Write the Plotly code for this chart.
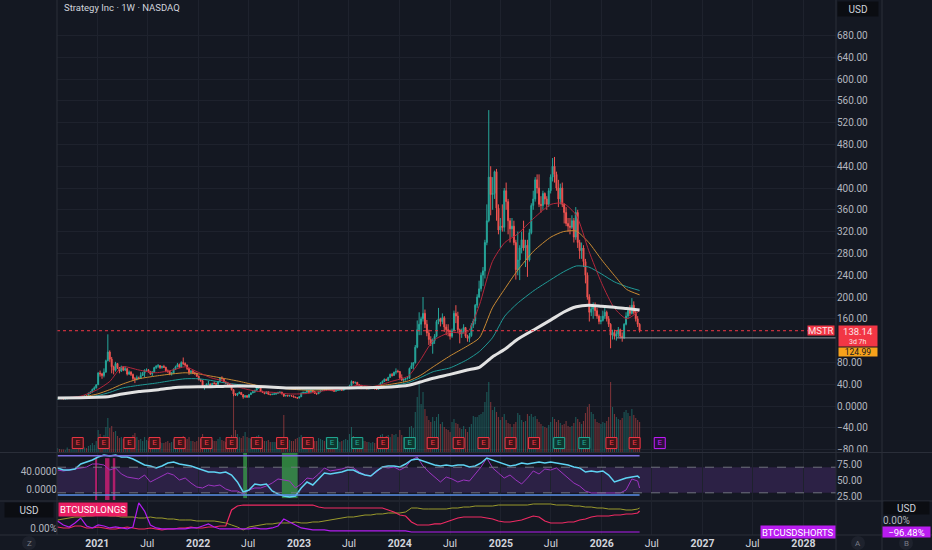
import plotly.graph_objects as go
import pandas as pd

# ------------------------------------------------------------------ data
week_start = "2020-08-10"          # first weekly bar (Mondays)
first_open = 12.4

close = [
    # 2020
    14.5, 14.1, 13.6, 13.0, 13.2, 14.8, 14.3, 14.9, 15.2, 15.5, 16.0, 15.6, 16.9, 17.2, 19.3, 19.0, 23.5, 25.5, 30.5, 33.5, 38.9,
    # 2021
    60.5, 59.0, 55.8, 62.0, 83.0, 99.0, 86.0, 72.0, 65.5, 78.0, 70.5, 64.0, 72.0, 66.0, 68.5, 58.5, 62.0, 58.0, 50.5, 48.5,
    52.0, 50.5, 56.0, 60.0, 66.0, 66.5, 63.5, 59.0, 62.5, 70.5, 73.0, 74.0, 70.5, 72.5, 71.0, 64.5, 63.5, 58.5, 60.5, 67.5,
    72.0, 76.0, 71.0, 80.0, 78.0, 75.0, 69.0, 61.5, 64.0, 61.0, 60.0, 54.5,
    # 2022
    48.5, 46.5, 35.0, 36.0, 40.0, 40.5, 37.0, 41.5, 41.0, 40.0, 45.0, 51.5, 50.0, 44.0, 42.0, 40.0, 36.0, 30.0, 22.0, 20.0,
    23.0, 25.0, 21.0, 16.5, 19.0, 16.0, 21.0, 24.0, 26.0, 29.0, 33.0, 34.0, 26.5, 25.0, 23.0, 26.0, 21.5, 21.0, 21.5, 22.0,
    23.0, 25.0, 25.5, 22.0, 18.5, 19.5, 18.5, 19.0, 18.5, 16.5, 15.5, 14.5,
    # 2023
    17.0, 24.0, 25.0, 25.0, 28.0, 25.0, 29.0, 26.5, 23.0, 22.5, 26.0, 28.5, 29.5, 29.0, 34.0, 30.5, 29.5, 29.0, 27.0, 28.5,
    29.0, 31.0, 29.0, 31.5, 33.5, 34.0, 37.0, 45.0, 42.5, 43.5, 39.0, 38.0, 32.0, 33.5, 33.0, 31.5, 32.0, 32.5, 33.0, 31.5,
    30.5, 38.0, 42.0, 45.0, 49.0, 47.0, 52.5, 58.0, 56.0, 62.0, 63.5, 63.2,
    # 2024
    52.0, 47.5, 49.0, 50.5, 51.0, 69.0, 74.0, 79.5, 108.0, 140.0, 150.0, 160.0, 170.0, 150.0, 134.0, 122.0, 114.0, 120.0, 128.0, 155.0,
    160.0, 155.0, 162.0, 145.0, 140.0, 137.5, 128.0, 138.0, 170.0, 165.0, 140.0, 132.0, 137.0, 144.0, 128.0, 124.0, 129.0, 148.0, 156.0, 185.0,
    200.0, 215.0, 240.0, 248.0, 300.0, 340.0, 420.0, 388.0, 390.0, 430.0, 363.0, 323.0, 330.0,
    # 2025
    328.0, 395.0, 375.0, 340.0, 325.0, 330.0, 300.0, 250.0, 268.0, 290.0, 305.0, 290.0, 295.0, 268.0, 318.0, 368.0, 380.0, 415.0, 400.0, 370.0,
    368.0, 390.0, 380.0, 370.0, 395.0, 420.0, 440.0, 425.0, 400.0, 380.0, 400.0, 370.0, 355.0, 335.0, 330.0, 328.0, 340.0, 310.0, 355.0, 300.0,
    285.0, 290.0, 265.0, 240.0, 200.0, 172.0, 178.0, 183.0, 175.0, 165.0, 155.0, 157.0,
    # 2026
    165.0, 172.0, 160.0, 150.0, 130.0, 135.0, 128.0, 132.0, 140.0, 128.0, 125.0, 150.0, 165.0, 175.0, 170.0, 185.0, 172.0, 160.0, 150.0, 138.14,
]

high = [
    # 2020
    14.8, 14.9, 14.3, 13.9, 13.6, 15.4, 15.0, 15.2, 15.6, 16.2, 16.6, 17.0, 17.4, 17.9, 19.8, 20.5, 24.5, 27.0, 32.0, 36.0, 40.0,
    # 2021
    62, 65, 61, 69, 85, 131.5, 102, 90, 74, 81, 79, 71, 74, 73, 73, 69.5, 65, 64, 59.5, 53,
    56, 54, 62, 62.5, 67, 69, 67.5, 64, 64, 72, 75, 77, 75, 74, 75.5, 72, 67, 65, 62, 69,
    74, 79, 78, 82, 89, 80, 76, 70, 66, 66, 63, 61,
    # 2022
    56, 50, 47.5, 38.5, 41.5, 46, 41, 42.5, 45, 43, 46, 53, 54.5, 50.5, 45, 44, 41, 38, 31, 23.5,
    24, 26.5, 25.5, 21.5, 19.5, 19.8, 21.5, 25, 29, 29.5, 34.5, 36.5, 35, 28, 25.5, 27, 27, 22.5, 23, 24.5,
    23.5, 26, 26.5, 26, 23, 20, 20.5, 20, 19.5, 19, 17, 15.8,
    # 2023
    17.5, 24.5, 26.5, 26, 30, 28.5, 30.5, 29.5, 27.5, 24, 28, 30, 30.5, 31, 35, 34.5, 31.5, 31.5, 29.5, 29.5,
    30, 31.5, 31.5, 32, 35, 35.5, 39, 47, 45.5, 44.5, 44, 40, 38.5, 34.5, 36.5, 33.5, 33, 33.5, 33.5, 34,
    32, 39, 43.5, 47, 50.5, 50, 53.5, 59.5, 60.5, 63, 69, 66.5,
    # 2024
    64, 58, 50, 51.5, 55, 70.5, 80, 80.5, 112, 157, 172, 164, 200, 177, 158, 140, 128, 124, 132, 158,
    180, 162, 170, 165, 150, 150, 140, 142, 175, 185, 173, 142, 142, 150, 145, 131, 134, 152, 160, 187,
    205, 230, 245, 255, 305, 370, 543, 440, 420, 432, 435, 370, 345,
    # 2025
    370, 400, 410, 380, 345, 345, 340, 305, 320, 295, 320, 340, 305, 305, 325, 372, 395, 420, 425, 425,
    385, 395, 392, 385, 400, 425, 455, 457, 430, 415, 408, 410, 372, 365, 345, 345, 350, 345, 365, 360,
    305, 300, 295, 270, 245, 205, 185, 190, 190, 180, 168, 165,
    # 2026
    175, 180, 175, 165, 152, 140, 140, 138, 145, 142, 135, 152, 172, 182, 185, 198, 192, 175, 165, 152,
]

low = [
    # 2020
    12.2, 13.8, 13.4, 12.6, 12.7, 13.1, 13.9, 14.0, 14.7, 15.0, 15.2, 15.2, 15.5, 16.4, 17.0, 18.6, 18.8, 22.6, 25.0, 29.0, 32.0,
    # 2021
    38.5, 54, 50, 52.5, 61.5, 82, 81, 60, 58, 63, 68, 60, 62.5, 64, 64, 56, 57, 55, 47, 42,
    47, 49, 50, 55, 53, 63, 61, 57, 55, 61, 68, 70, 68, 68.5, 70, 62, 61, 56.5, 56, 60,
    66, 71, 69.5, 70, 75, 73, 66, 57, 58, 58.5, 57, 54,
    # 2022
    47, 44.5, 33, 30, 34, 39, 35.5, 33.5, 40, 38, 38.5, 44, 48.5, 43, 40.5, 38.5, 35, 28.5, 18, 18.5,
    18, 22, 20, 13.3, 15, 15.5, 15.5, 20, 23.5, 24, 28, 31.5, 26, 24.5, 21.5, 22.5, 21, 19.5, 20, 21,
    20.5, 22.5, 24, 21.5, 16.5, 17.5, 17.5, 17.5, 17.5, 16, 14.5, 13.3,
    # 2023
    14.2, 16.8, 22.5, 23, 24.5, 24, 24.5, 25.5, 22.5, 20.5, 22, 25, 27.5, 28, 28.8, 29.5, 28, 27, 26.5, 26.5,
    27.5, 28.5, 28, 28.5, 31, 32, 33.5, 36.5, 41, 41, 38, 37, 31, 31.5, 32.5, 31, 30.5, 31, 31, 31,
    29.5, 30.2, 37.5, 41, 44.5, 46, 46.5, 52, 54, 55.5, 58, 61,
    # 2024
    49, 46, 43.5, 46.5, 48.5, 50.5, 68, 67, 78, 106, 130, 130, 155, 143, 128, 112, 110, 96, 114, 126,
    150, 146, 150, 136, 130, 128, 122, 125, 137, 152, 134, 115, 125, 133, 125, 118, 117, 127, 143, 150,
    180, 198, 210, 220, 234, 295, 337, 350, 360, 380, 340, 315, 290,
    # 2025
    320, 320, 360, 315, 300, 310, 295, 232, 240, 231, 280, 285, 255, 237, 265, 315, 360, 375, 390, 365,
    355, 360, 370, 360, 365, 390, 412, 410, 395, 365, 370, 365, 335, 330, 320, 315, 325, 300, 305, 290,
    270, 270, 255, 225, 195, 155, 165, 160, 165, 160, 150, 150,
    # 2026
    155, 160, 155, 145, 106, 122, 122, 120, 126, 124, 118, 123, 148, 160, 165, 168, 168, 155, 145, 135,
]

volume = [  # millions of shares (split adjusted)
    # 2020
    8, 6, 5, 5, 4, 9, 6, 5, 5, 5, 5, 6, 8, 6, 9, 8, 12, 14, 18, 14, 22,
    # 2021
    44, 36, 30, 34, 50, 68, 48, 52, 40, 42, 32, 28, 30, 26, 24, 30, 26, 28, 34, 38,
    30, 24, 26, 22, 30, 24, 22, 20, 18, 22, 26, 22, 20, 18, 18, 20, 22, 18, 20, 26,
    24, 22, 22, 30, 32, 24, 26, 30, 22, 22, 20, 22,
    # 2022
    30, 26, 36, 30, 28, 26, 22, 24, 22, 22, 26, 30, 24, 22, 20, 20, 24, 34, 124, 44,
    36, 30, 28, 32, 40, 30, 28, 26, 28, 30, 32, 34, 30, 24, 22, 22, 24, 20, 20, 20,
    20, 22, 20, 30, 74, 30, 26, 24, 22, 22, 26, 28,
    # 2023
    30, 34, 28, 26, 30, 26, 28, 24, 22, 22, 28, 26, 24, 22, 30, 24, 22, 22, 20, 20,
    22, 20, 22, 24, 26, 24, 36, 50, 32, 28, 26, 24, 28, 22, 22, 20, 20, 18, 20, 18,
    28, 30, 34, 36, 30, 32, 34, 30, 36, 34, 36, 30,
    # 2024
    44, 34, 30, 28, 30, 50, 52, 48, 80, 110, 140, 96, 120, 86, 72, 64, 60, 70, 62, 70,
    76, 56, 60, 50, 46, 44, 40, 60, 66, 58, 56, 48, 46, 52, 46, 40, 50, 56, 72, 70,
    70, 74, 76, 80, 100, 120, 140, 100, 84, 90, 80, 70, 64,
    # 2025
    70, 76, 64, 58, 56, 50, 56, 60, 78, 74, 64, 60, 62, 76, 72, 76, 70, 72, 66, 60,
    56, 52, 50, 48, 54, 60, 70, 66, 60, 64, 58, 54, 56, 62, 52, 50, 52, 58, 70, 66,
    60, 56, 62, 78, 90, 96, 80, 76, 66, 60, 58, 56,
    # 2026
    60, 58, 62, 70, 140, 90, 76, 70, 66, 64, 68, 80, 84, 78, 72, 86, 74, 68, 64, 60,
]

# moving averages
ma_dates = ["2020-08-10", "2020-11-01", "2021-01-01", "2021-02-15", "2021-04-01", "2021-06-01", "2021-08-01", "2021-10-01",
            "2021-11-15", "2022-01-01", "2022-02-15", "2022-04-01", "2022-06-01", "2022-08-01", "2022-10-01", "2022-12-01",
            "2023-02-01", "2023-04-01", "2023-06-01", "2023-08-01", "2023-10-01", "2023-12-01", "2024-02-01", "2024-03-15",
            "2024-05-01", "2024-07-01", "2024-09-01", "2024-10-15", "2024-12-01", "2025-01-15", "2025-03-01", "2025-05-01",
            "2025-07-01", "2025-08-15", "2025-10-01", "2025-11-15", "2026-01-01", "2026-02-15", "2026-04-01", "2026-05-18"]
ma_red = [14, 18, 30, 45, 72, 66, 61, 66, 72, 62, 52, 46, 34, 27, 25, 22, 23, 28, 31, 38,
          36, 45, 55, 84, 120, 135, 135, 185, 265, 300, 315, 345, 370, 372, 350, 285, 225, 180, 160, 175]
ma_orange = [14, 16, 22, 30, 40, 50, 55, 59, 61, 59, 55, 51, 45, 38, 34, 31, 29, 30, 32, 34,
             36, 40, 46, 56, 72, 92, 110, 125, 180, 215, 248, 285, 310, 320, 321, 300, 268, 240, 214, 204]
ma_teal = [14, 15.5, 19, 25, 33, 38, 42, 47, 50, 50, 47, 43, 39, 36, 34, 32, 31, 31, 32, 33.5,
           34.5, 37, 43, 52, 63, 70, 85, 100, 125, 165, 188, 212, 232, 246, 257, 255, 242, 228, 219, 212]
ma_white = [14.5, 15, 16, 17.5, 22, 26.5, 29.5, 33.5, 35, 35.5, 35.5, 36, 36.5, 36, 34.5, 33, 33, 33, 33, 33.5,
            34, 35, 38, 44, 51, 58, 66, 71, 90, 104, 122, 140, 158, 172, 182, 185, 183, 181, 179, 176]

earn_dates = ["2020-10-22", "2021-01-24", "2021-04-27", "2021-07-27", "2021-10-26", "2022-01-31", "2022-05-02", "2022-08-01",
              "2022-11-01", "2023-02-02", "2023-05-01", "2023-07-31", "2023-11-01", "2024-02-06", "2024-04-29", "2024-08-01",
              "2024-10-30", "2025-02-05", "2025-05-01", "2025-07-31", "2025-10-30", "2026-02-05", "2026-04-30", "2026-07-30"]
earn_kind = ["r", "r", "r", "r", "r", "r", "r", "r", "r", "r", "g", "g",
             "r", "g", "r", "r", "r", "r", "r", "g", "g", "r", "r", "f"]

# oscillator pane (sampled every 3 weeks + last bar), right scale
osc_start = "2020-08-10"
osc_cyan = [68.8, 65.6, 65.6, 67.2, 75, 78.1, 81.3, 85.9, 89.1, 87.5,
            89.1, 85.9, 85.9, 82.8, 78.1, 73.4, 71.9, 68.8, 71.9, 76.6,
            78.1, 75, 73.4, 71.9, 68.8, 65.6, 62.5, 62.5, 60.9, 62.5,
            57.8, 46.9, 31.3, 34.4, 43.8, 42.2, 43.8, 32.8, 28.1, 25,
            23.4, 25, 37.5, 46.9, 42.2, 51.6, 60.9, 59.4, 60.9, 62.5,
            65.6, 65.6, 60.9, 57.8, 56.3, 64.1, 70.3, 71.9, 71.9, 70.3,
            75, 81.3, 82.8, 79.7, 76.6, 73.4, 71.9, 73.4, 71.9, 73.4,
            73.4, 70.3, 71.9, 76.6, 84.4, 81.3, 78.1, 75, 71.9, 73.4,
            76.6, 75, 76.6, 78.1, 76.6, 78.1, 76.6, 75, 73.4, 70.3,
            68.8, 62.5, 64.1, 62.5, 64.1, 57.8, 46.9, 50, 53.1, 54.7,
            56.3, 53.1]
osc_purple = [65.6, 64.1, 65.6, 67.2, 68.8, 70.3, 75, 75, 73.4, 65.6,
              68.8, 59.4, 54.7, 53.1, 51.6, 57.8, 46.9, 51.6, 56.3, 60.9,
              57.8, 50, 53.1, 45.3, 39.1, 37.5, 42.2, 40.6, 42.2, 35.9,
              32.8, 32.8, 28.1, 34.4, 37.5, 37.5, 40.6, 45.3, 51.6, 50,
              48.4, 37.5, 43.8, 53.1, 51.6, 59.4, 68.8, 64.1, 65.6, 67.2,
              70.3, 68.8, 62.5, 57.8, 56.3, 62.5, 70.3, 68.8, 70.3, 65.6,
              70.3, 81.3, 85.9, 71.9, 62.5, 54.7, 46.9, 54.7, 51.6, 46.9,
              50, 48.4, 59.4, 70.3, 84.4, 68.8, 60.9, 53.1, 57.8, 50,
              43.8, 53.1, 64.1, 59.4, 67.2, 65.6, 68.8, 60.9, 53.1, 45.3,
              40.6, 32.8, 29.7, 29.7, 29.7, 29.7, 29.7, 29.7, 34.4, 51.6,
              48.4, 37.5]
rsi_levels = [30, 70]
band_levels_left = [-13, 76.4]      # solid band lines, left scale
green_spans = [("2022-06-13", "2022-06-27"), ("2022-10-31", "2022-12-27")]
pink_spans = [("2020-12-24", "2021-01-01"), ("2021-01-29", "2021-02-14"), ("2021-02-26", "2021-03-07")]

# BTCUSD longs (left % scale) / shorts (right % scale), same 3-week sampling
longs_pct = [48, 24, 24, 72, 72, 24, 24, 48, 24, 0,
             0, 24, 48, 24, 0, 0, 24, 0, -24, 0,
             0, 24, 24, 48, 24, 24, 48, 48, 72, 72,
             458, 554, 578, 578, 578, 578, 578, 578, 578, 578,
             578, 578, 578, 578, 578, 530, 506, 506, 506, 506,
             506, 506, 506, 506, 506, 506, 506, 458, 410, 337,
             313, 169, 96, 96, 96, 121, 121, 169, 217, 265,
             289, 289, 289, 289, 265, 241, 193, 169, 169, 193,
             217, 265, 313, 289, 193, 145, 145, 145, 169, 169,
             217, 241, 289, 313, 313, 313, 337, 337, 362, 362,
             386, 434]
olive_pct = [217, 241, 265, 289, 289, 313, 313, 337, 337, 313,
             313, 289, 289, 289, 265, 265, 289, 265, 265, 241,
             241, 217, 217, 217, 193, 193, 193, 193, 169, 145,
             96, 48, -24, 48, 72, 96, 121, 121, 145, 145,
             145, 169, 145, 145, 169, 169, 193, 217, 241, 265,
             289, 289, 313, 337, 337, 362, 362, 386, 386, 386,
             410, 506, 506, 482, 482, 482, 482, 482, 506, 506,
             530, 530, 554, 554, 554, 554, 578, 578, 578, 578,
             578, 578, 603, 603, 603, 603, 578, 578, 578, 554,
             554, 530, 530, 506, 506, 482, 482, 482, 458, 458,
             482, 506]
shorts_pct = [-8, -40, -56, -24, 16, -48, -64, -40, -48, -64,
              -56, -64, -72, -56, 137, 72, -40, -64, -72, -72,
              -72, -72, -72, -64, -64, -48, -32, -56, -72, -72,
              -72, -72, -72, -72, -64, -72, -72, -64, -48, 8,
              -16, -40, -64, -72, -80, -80, -80, -88, -88, -88,
              -88, -88, -88, -88, -88, -88, -88, -88, -88, -88,
              -88, -96.48, -96.48, -96.48, -96.48, -96.48, -96.48, -96.48, -96.48, -96.48,
              -96.48, -96.48, -96.48, -96.48, -96.48, -96.48, -96.48, -96.48, -96.48, -96.48,
              -96.48, -96.48, -96.48, -96.48, -96.48, -96.48, -96.48, -96.48, -96.48, -96.48,
              -96.48, -96.48, -96.48, -96.48, -96.48, -96.48, -96.48, -96.48, -96.48, -96.48,
              -96.48, -96.48]

alert_level = 124.99
alert_start = "2026-02-23"
countdown = "3d 7h"

price_ticks = [-80, -40, 0, 40, 80, 160, 200, 240, 280, 320, 360, 400, 440, 480, 520, 560, 600, 640, 680]
price_ticktext = ["\u221280.00", "\u221240.00", "0.0000", "40.00", "80.00", "160.00", "200.00", "240.00",
                  "280.00", "320.00", "360.00", "400.00", "440.00", "480.00", "520.00", "560.00", "600.00", "640.00",
                  "680.00"]
rsi_ticks = [25, 50, 75]
rsi_ticktext = ["25.00", "50.00", "75.00"]
osc_left_ticks = [0, 40]
osc_left_ticktext = ["0.0000", "40.0000"]
time_ticks = ["2021-01-01", "2021-07-01", "2022-01-01", "2022-07-01", "2023-01-01", "2023-07-01", "2024-01-01",
              "2024-07-01", "2025-01-01", "2025-07-01", "2026-01-01", "2026-07-01", "2027-01-01", "2027-07-01", "2028-01-01"]
time_ticktext = ["<b>2021</b>", "Jul", "<b>2022</b>", "Jul", "<b>2023</b>", "Jul", "<b>2024</b>", "Jul",
                 "<b>2025</b>", "Jul", "<b>2026</b>", "Jul", "<b>2027</b>", "Jul", "<b>2028</b>"]
x_range = ["2020-08-08", "2028-04-28"]

assert len(close) == len(high) == len(low) == len(volume)
assert len(osc_cyan) == len(osc_purple) == len(longs_pct) == len(olive_pct) == len(shorts_pct)

# ------------------------------------------------------------------ geometry / style
W, H = 932, 550
ML, MR, MT, MB = 57, 0, 0, 15
PW, PH = W - ML - MR, H - MT - MB


def px_x(px):
    return (px - ML) / PW


def px_y(py):
    return (H - MB - py) / PH


XR = px_x(836)
XB = px_x(882)
BG = "#141822"
GRID = "#1e222d"
SEP = "#2a2e39"
TXT = "#b2b5be"
UP, DN = "#26a69a", "#ef5350"
FONT = "Roboto, 'Noto Sans', sans-serif"
EARN_Y = -68

weeks = pd.date_range(week_start, periods=len(close), freq="7D")
opens = [first_open] + close[:-1]
is_up = [c >= o for o, c in zip(opens, close)]
osc_dates = list(pd.date_range(osc_start, periods=len(osc_cyan) - 1, freq="21D")) + [weeks[-1]]

fig = go.Figure()

# volume (base axis of main pane, hidden)
fig.add_trace(go.Bar(x=weeks, y=volume, xaxis="x", yaxis="y",
                     marker=dict(color=["rgba(38,166,154,0.45)" if u else "rgba(239,83,80,0.45)" for u in is_up],
                                 line=dict(width=0)),
                     width=4 * 86400000))

# candles
fig.add_trace(go.Candlestick(x=weeks, open=opens, high=high, low=low, close=close, xaxis="x", yaxis="y2",
                             increasing=dict(line=dict(color=UP, width=1), fillcolor=UP),
                             decreasing=dict(line=dict(color=DN, width=1), fillcolor=DN),
                             whiskerwidth=0))

# moving averages
for vals, col, w in [(ma_teal, "#1f9a96", 1), (ma_orange, "#c98a33", 1), (ma_red, "#b3263a", 1), (ma_white, "#e2e2e2", 3)]:
    fig.add_trace(go.Scatter(x=ma_dates, y=vals, mode="lines", xaxis="x", yaxis="y2",
                             line=dict(color=col, width=w, shape="spline", smoothing=0.6)))

# earnings markers
ecol = {"r": ("#3e1519", "#f23645"), "g": ("#0e3630", "#22ab94"), "f": ("#2b0f3d", "#c51cff")}
fig.add_trace(go.Scatter(x=earn_dates, y=[EARN_Y] * len(earn_dates), mode="markers+text", xaxis="x", yaxis="y2",
                         text=["E"] * len(earn_dates), textposition="middle center",
                         textfont=dict(size=8, color=[ecol[k][1] for k in earn_kind], family=FONT),
                         marker=dict(symbol="square", size=11, color=[ecol[k][0] for k in earn_kind],
                                     line=dict(color=[ecol[k][1] for k in earn_kind], width=1)),
                         cliponaxis=False))

# oscillator pane
fig.add_trace(go.Scatter(x=[weeks[0], weeks[-1]], y=[band_levels_left[1]] * 2, mode="lines", xaxis="x2", yaxis="y4",
                         line=dict(color="#7e6ee0", width=1.5)))
fig.add_trace(go.Scatter(x=[weeks[0], weeks[-1]], y=[band_levels_left[0]] * 2, mode="lines", xaxis="x2", yaxis="y4",
                         line=dict(color="#5b8fe8", width=1.5)))
fig.add_trace(go.Scatter(x=osc_dates, y=osc_purple, mode="lines", xaxis="x2", yaxis="y3",
                         line=dict(color="#9c34c0", width=1)))
fig.add_trace(go.Scatter(x=osc_dates, y=osc_cyan, mode="lines", xaxis="x2", yaxis="y3",
                         line=dict(color="#5fd3f3", width=1.5)))

# btc longs / shorts pane
fig.add_trace(go.Scatter(x=osc_dates, y=olive_pct, mode="lines", xaxis="x3", yaxis="y5",
                         line=dict(color="#9a9a2c", width=1)))
fig.add_trace(go.Scatter(x=osc_dates, y=longs_pct, mode="lines", xaxis="x3", yaxis="y5",
                         line=dict(color="#ef2a63", width=1.2)))
fig.add_trace(go.Scatter(x=osc_dates, y=shorts_pct, mode="lines", xaxis="x3", yaxis="y6",
                         line=dict(color="#b21cf0", width=1.2)))

# ------------------------------------------------------------------ shapes
shapes = []
shapes.append(dict(type="line", xref="x domain", x0=0, x1=1, yref="y2", y0=close[-1], y1=close[-1],
                   line=dict(color="#f23645", width=1, dash="dot")))
shapes.append(dict(type="line", xref="x", x0=alert_start, x1=x_range[1], yref="y2", y0=alert_level, y1=alert_level,
                   line=dict(color="#9598a1", width=1)))
shapes.append(dict(type="rect", xref="x2 domain", x0=0, x1=1, yref="y3", y0=rsi_levels[0], y1=rsi_levels[1],
                   fillcolor="rgba(140,70,210,0.2)", line=dict(width=0), layer="below"))
for lv in rsi_levels:
    shapes.append(dict(type="line", xref="x2 domain", x0=0, x1=1, yref="y3", y0=lv, y1=lv,
                       line=dict(color="rgba(120,123,134,0.9)", width=1, dash="dash")))
for a, b in green_spans:
    shapes.append(dict(type="rect", xref="x2", x0=a, x1=b, yref="y3 domain", y0=0.04, y1=1.0,
                       fillcolor="rgba(56,160,72,0.75)", line=dict(width=0), layer="below"))
for a, b in pink_spans:
    shapes.append(dict(type="rect", xref="x2", x0=a, x1=b, yref="y3 domain", y0=0.0, y1=0.89,
                       fillcolor="rgba(220,30,120,0.75)", line=dict(width=0), layer="below"))
for py in [452.5, 501, 535]:
    shapes.append(dict(type="line", xref="paper", x0=px_x(0), x1=1, yref="paper", y0=px_y(py), y1=px_y(py),
                       line=dict(color=SEP, width=1)))
for pxv in [836, 882]:
    shapes.append(dict(type="line", xref="paper", x0=px_x(pxv), x1=px_x(pxv), yref="paper", y0=px_y(550), y1=1,
                       line=dict(color=SEP, width=1)))
shapes.append(dict(type="line", xref="paper", x0=0, x1=0, yref="paper", y0=0, y1=1, line=dict(color=SEP, width=1)))
for cx in [29, 858, 906]:
    shapes.append(dict(type="circle", xref="paper", yref="paper", x0=px_x(cx - 7), x1=px_x(cx + 7),
                       y0=px_y(550), y1=px_y(536), fillcolor="#1e222d", line=dict(width=0)))

# ------------------------------------------------------------------ annotations
ann = []


def label(text, x, y, yref="paper", xanchor="center", yanchor="middle", **kw):
    d = dict(text=text, x=x, y=y, xref="paper", yref=yref, xanchor=xanchor, yanchor=yanchor, showarrow=False)
    d.update(kw)
    ann.append(d)


label("Strategy Inc \u00b7 1W \u00b7 NASDAQ", px_x(62), px_y(8), xanchor="left",
      font=dict(size=9.5, color="#d1d4dc", family=FONT))
label("USD", px_x(857.5), px_y(9), width=38, height=12, bgcolor="#0b0d12",
      font=dict(size=10, color="#d1d4dc", family=FONT))
label("MSTR", px_x(835), close[-1], yref="y2", xanchor="right", bgcolor="#f23645", borderpad=0, height=9,
      font=dict(size=9.5, color="#fbe3e5", family=FONT))
label(f"<span style='font-size:9.5px'>{close[-1]:.2f}</span><br>{countdown}", px_x(838), close[-1], yref="y2",
      xanchor="left", yanchor="top", yshift=6, width=38, bgcolor="#f23645", borderpad=0,
      font=dict(size=7, color="#fbe3e5", family=FONT))
label(f"{alert_level:.2f}", px_x(838), alert_level, yref="y2", xanchor="left", yanchor="top", yshift=-9,
      width=38, height=8, bgcolor="#f7a21b", borderpad=0, font=dict(size=8.5, color="#131722", family=FONT))
label("USD", px_x(28.5), px_y(509.5), width=46, height=12, bgcolor="#0b0d12",
      font=dict(size=10, color="#d1d4dc", family=FONT))
label("BTCUSDLONGS", px_x(58), px_y(509.5), xanchor="left", bgcolor="#e91e63", borderpad=1,
      font=dict(size=9.5, color="white", family=FONT))
label("BTCUSDSHORTS", px_x(836), shorts_pct[-1], yref="y6", xanchor="right", bgcolor="#b91cf0", borderpad=1,
      height=10, font=dict(size=9.5, color="white", family=FONT))
label("USD", px_x(906), px_y(507.5), width=43, height=10, bgcolor="#0b0d12",
      font=dict(size=10, color="#d1d4dc", family=FONT))
label(f"{shorts_pct[-1]:.2f}%".replace("-", "\u2212"), px_x(882), shorts_pct[-1], yref="y6", xanchor="left",
      width=47, height=10, bgcolor="#b91cf0", borderpad=0, font=dict(size=9.5, color="white", family=FONT))
for cx, t in [(29, "Z"), (858, "A"), (906, "B")]:
    label(t, px_x(cx), px_y(543), font=dict(size=8, color="#787b86", family=FONT))

# ------------------------------------------------------------------ layout
tick_font = dict(size=10, color=TXT, family=FONT)
xcommon = dict(range=x_range, type="date", domain=[0, XR], showgrid=True, gridcolor=GRID, gridwidth=1,
               tickvals=time_ticks, ticktext=time_ticktext, zeroline=False, showline=False, fixedrange=True)

fig.update_layout(
    width=W, height=H, margin=dict(l=ML, r=MR, t=MT, b=MB),
    paper_bgcolor=BG, plot_bgcolor=BG, showlegend=False, hovermode=False, dragmode=False,
    font=dict(family=FONT, color=TXT),
    xaxis=dict(**xcommon, anchor="y", showticklabels=False, rangeslider=dict(visible=False)),
    xaxis2=dict(**xcommon, anchor="y3", matches="x", showticklabels=False),
    xaxis3=dict(**xcommon, anchor="y5", matches="x", showticklabels=True, ticks="",
                tickfont=dict(size=10.5, color="#d1d4dc", family=FONT)),
    yaxis=dict(domain=[px_y(452), 1.0], range=[0, 904], visible=False, anchor="x", fixedrange=True),
    yaxis2=dict(overlaying="y", anchor="free", position=XR, side="right", range=[-84.4, 745],
                tickvals=price_ticks, ticktext=price_ticktext, tickfont=tick_font, showgrid=True,
                gridcolor=GRID, zeroline=False, showline=False, ticks="", fixedrange=True),
    yaxis3=dict(domain=[px_y(500), px_y(453)], anchor="free", position=XR, side="right", range=[18.75, 92.2],
                tickvals=rsi_ticks, ticktext=rsi_ticktext, tickfont=tick_font, showgrid=False, zeroline=False,
                ticks="", fixedrange=True),
    yaxis4=dict(overlaying="y3", anchor="free", position=0, side="left", range=[-24.3, 82.5],
                tickvals=osc_left_ticks, ticktext=osc_left_ticktext, tickfont=tick_font, showgrid=False,
                zeroline=False, ticks="", fixedrange=True),
    yaxis5=dict(domain=[0, px_y(502)], anchor="free", position=0, side="left", range=[-145, 651],
                tickvals=[0], ticktext=["0.00%"], tickfont=tick_font, showgrid=False, zeroline=False,
                ticks="", fixedrange=True),
    yaxis6=dict(overlaying="y5", anchor="free", position=XB, side="right", range=[-120.6, 144.7],
                tickvals=[0], ticktext=["0.00%"], tickfont=tick_font, showgrid=False, zeroline=False,
                ticks="", fixedrange=True),
    shapes=shapes, annotations=ann,
)

fig.write_html("out.html", config={"displayModeBar": False, "staticPlot": True},
               post_script="document.body.style.margin='0';document.body.style.background='" + BG + "';")
